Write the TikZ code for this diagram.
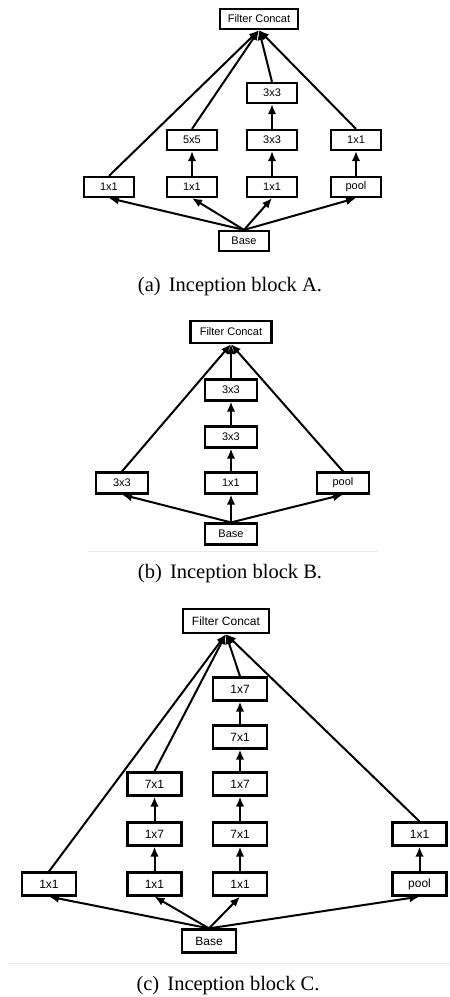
\documentclass[tikz,border=0pt]{standalone}
\usepackage{fontspec}
\setmainfont{Liberation Serif}
\setsansfont{Liberation Sans}
\usetikzlibrary{arrows.meta}
\tikzset{
  boxA/.style={draw, line width=2.2pt, minimum width=50pt, minimum height=20pt, inner sep=0pt, font=\sffamily\fontsize{11}{11}\selectfont},
  boxB/.style={boxA, minimum width=52pt, minimum height=21pt},
  boxC/.style={boxA, minimum width=54pt, minimum height=23pt, font=\sffamily\fontsize{12}{12}\selectfont},
  fcA/.style={boxA, minimum width=78pt},
  fcB/.style={boxA, minimum width=81pt, minimum height=22pt},
  fcC/.style={boxC, minimum width=86pt, minimum height=24pt},
  arr/.style={line width=2pt, -{Latex[length=10pt,width=8.5pt]}},
  sepline/.style={line width=1pt, color=black!8},
  captext/.style={font=\fontsize{20.5}{22}\selectfont, anchor=base}
}
\begin{document}
\begin{tikzpicture}[x=1pt,y=-1pt]
\useasboundingbox (0,0) rectangle (450,997);
% ---------------- Block A
\node[fcA]  (aF)  at (259,19) {Filter Concat};
\node[boxA] (a33t) at (272,93) {3x3};
\node[boxA] (a55) at (192,140) {5x5};
\node[boxA] (a33) at (272,140) {3x3};
\node[boxA] (a11p) at (356,140) {1x1};
\node[boxA] (a1)  at (109,187) {1x1};
\node[boxA] (a2)  at (192,187) {1x1};
\node[boxA] (a3)  at (272,187) {1x1};
\node[boxA] (apool) at (356,187) {pool};
\node[boxA] (aB)  at (244,241) {Base};
\foreach \t in {a1,a2,a3,apool} \draw[arr] (aB.north) -- (\t.south);
\draw[arr] (a2.north) -- (a55.south);
\draw[arr] (a3.north) -- (a33.south);
\draw[arr] (a33.north) -- (a33t.south);
\draw[arr] (apool.north) -- (a11p.south);
\foreach \s in {a1,a55,a33t,a11p} \draw[arr] (\s.north) -- (aF.south);
\node[captext] (acap) at (230,291) {(a)\hspace{0.4em}Inception block A.};
% ---------------- Block B
\node[fcB]  (bF)  at (231,332) {Filter Concat};
\node[boxB] (b33t) at (231,390) {3x3};
\node[boxB] (b33) at (231,437) {3x3};
\node[boxB] (bl) at (122,483) {3x3};
\node[boxB] (bm) at (231,483) {1x1};
\node[boxB] (bpool) at (343,483) {pool};
\node[boxB] (bB) at (231,534) {Base};
\foreach \t in {bl,bm,bpool} \draw[arr] (bB.north) -- (\t.south);
\draw[arr] (bm.north) -- (b33.south);
\draw[arr] (b33.north) -- (b33t.south);
\foreach \s in {bl,b33t,bpool} \draw[arr] (\s.north) -- (bF.south);
\coordinate (bsL) at (88,551);
\coordinate (bsR) at (378,551);
\draw[sepline] (bsL) -- (bsR);
\node[captext] (bcap) at (230,578) {(b)\hspace{0.4em}Inception block B.};
% ---------------- Block C
\node[fcC]  (cF)  at (226,621) {Filter Concat};
\node[boxC] (c3a) at (240,689) {1x7};
\node[boxC] (c3b) at (240,737) {7x1};
\node[boxC] (c3c) at (240,784) {1x7};
\node[boxC] (c3d) at (240,834) {7x1};
\node[boxC] (c3e) at (240,884) {1x1};
\node[boxC] (c2a) at (154.5,784) {7x1};
\node[boxC] (c2b) at (154.5,834) {1x7};
\node[boxC] (c2c) at (154.5,884) {1x1};
\node[boxC] (c1)  at (49,884) {1x1};
\node[boxC] (c4a) at (419.5,834) {1x1};
\node[boxC] (cpool) at (419.5,884) {pool};
\node[boxC] (cB)  at (209,941) {Base};
\foreach \t in {c1,c2c,c3e,cpool} \draw[arr] (cB.north) -- (\t.south);
\draw[arr] (c2c.north) -- (c2b.south);
\draw[arr] (c2b.north) -- (c2a.south);
\draw[arr] (c3e.north) -- (c3d.south);
\draw[arr] (c3d.north) -- (c3c.south);
\draw[arr] (c3c.north) -- (c3b.south);
\draw[arr] (c3b.north) -- (c3a.south);
\draw[arr] (cpool.north) -- (c4a.south);
\foreach \s in {c1,c2a,c3a,c4a} \draw[arr] (\s.north) -- (cF.south);
\coordinate (csL) at (8,963);
\coordinate (csR) at (450,963);
\draw[sepline] (csL) -- (csR);
\node[captext] (ccap) at (228,990) {(c)\hspace{0.4em}Inception block C.};
\end{tikzpicture}
\end{document}
